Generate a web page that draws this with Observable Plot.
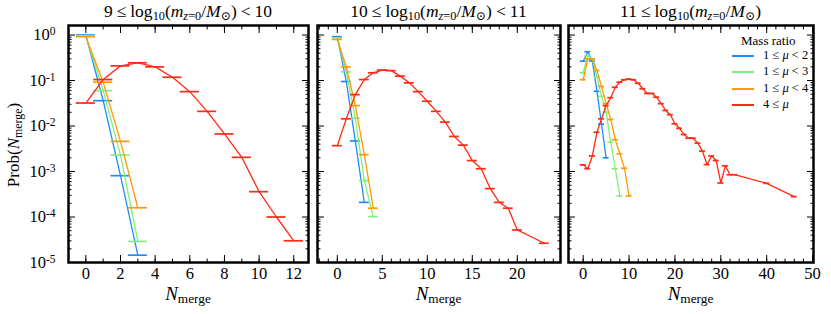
<!DOCTYPE html>
<html><head><meta charset="utf-8">
<script src="https://cdn.jsdelivr.net/npm/d3@7"></script>
<script src="https://cdn.jsdelivr.net/npm/@observablehq/plot@0.6"></script>
<style>
body{margin:0;background:#fff;}
#wrap{position:relative;width:831px;height:314px;overflow:hidden;font-family:"Liberation Serif","DejaVu Serif",serif;color:#000;}
.panel{position:absolute;top:0;}
.title{position:absolute;top:1px;font-size:17.5px;text-align:center;white-space:nowrap;transform:translateX(-50%);}
.rel{margin:0 4px;}
.xlab{position:absolute;top:284px;font-size:19px;line-height:1;white-space:nowrap;transform:translateX(-50%);}
.ylab{position:absolute;left:14px;top:145px;font-size:17px;white-space:nowrap;transform:translate(-50%,-50%) rotate(-90deg);}
sub{font-size:70%;vertical-align:-0.25em;line-height:0;}
.leg{position:absolute;font-size:12.5px;white-space:nowrap;}
.legline{position:absolute;width:22px;height:0;border-top:2.5px solid;}
</style></head>
<body><div id="wrap"></div>
<script>
// ---------- data ----------
const colors = {blue:"#1e8cff", green:"#80f07a", orange:"#ff9a00", red:"#ff2a14"};
const seriesNames = ["blue","green","orange","red"];
const legendLabels = ["1 ≤ <i>μ</i> &lt; 2","1 ≤ <i>μ</i> &lt; 3","1 ≤ <i>μ</i> &lt; 4","4 ≤ <i>μ</i>"];
const titles = [
  "9<span class='rel'>≤</span>log<sub>10</sub>(<i>m</i><sub><i>z</i>=0</sub>/<i>M</i><sub>⊙</sub>)<span class='rel'>&lt;</span>10",
  "10<span class='rel'>≤</span>log<sub>10</sub>(<i>m</i><sub><i>z</i>=0</sub>/<i>M</i><sub>⊙</sub>)<span class='rel'>&lt;</span>11",
  "11<span class='rel'>≤</span>log<sub>10</sub>(<i>m</i><sub><i>z</i>=0</sub>/<i>M</i><sub>⊙</sub>)"
];

// Panel 1: 9 <= log m < 10
const p1N_blue = [0,1,2,3];
const p1P_blue = [1.0, 0.036, 8.1e-4, 1.45e-5];
const p1N_green = [0,1,2,3];
const p1P_green = [0.96, 0.06, 2.3e-3, 2.9e-5];
const p1N_orange = [0,1,2,3];
const p1P_orange = [0.92, 0.092, 4.6e-3, 1.6e-4];
const p1N_red = [0,1,2,3,4,5,6,7,8,9,10,11,12];
const p1P_red = [0.032,0.105,0.21,0.245,0.2,0.118,0.057,0.021,6.7e-3,2.05e-3,3.6e-4,1.0e-4,3.0e-5];

// Panel 2: 10 <= log m < 11
const p2N_blue = [0,1,2,3];
const p2P_blue = [0.92, 0.095, 4.7e-3, 2.1e-4];
const p2N_green = [0,1,2,3,4];
const p2P_green = [0.86, 0.155, 0.0148, 6.3e-4, 1.02e-4];
const p2N_orange = [0,1,2,3,4];
const p2P_orange = [0.8, 0.2, 0.028, 2.35e-3, 1.56e-4];
const p2N_red = [0,1,2,3,4,5,6,7,8,9,10,11,12,13,14,15,16,17,18,19,20,23];
const p2P_red = [3.7e-3,0.0144,0.049,0.105,0.148,0.17,0.165,0.125,0.089,0.057,0.035,0.021,0.0122,5.9e-3,3.8e-3,1.74e-3,1.15e-3,4.2e-4,2.1e-4,1.56e-4,5.2e-5,2.65e-5];

// Panel 3: 11 <= log m
const p3N_blue = [0,1,2,3,4,5];
const p3P_blue = [0.266, 0.43, 0.27, 0.058, 0.011, 2.0e-3];
const p3N_green = [0,1,2,3,4,5,6,7,8];
const p3P_green = [0.148, 0.35, 0.3, 0.12, 0.045, 0.02, 4.4e-3, 1.15e-3, 2.9e-4];
const p3N_orange = [0,1,2,3,4,5,6,7,8,9,10];
const p3P_orange = [0.104, 0.3, 0.3, 0.166, 0.074, 0.031, 0.0139, 5.0e-3, 2.45e-3, 1.18e-3, 2.9e-4];
const p3N_red = [0,1,2,3,4,5,6,7,8,9,10,11,12,13,14,15,16,17,18,19,20,21,22,23,24,25,26,27,28,29,30,31,32,33,40,46];
const p3P_red = [1.4e-3,1.15e-3,2.2e-3,7.3e-3,0.0144,0.028,0.042,0.071,0.092,0.104,0.107,0.104,0.087,0.066,0.052,0.052,0.043,0.031,0.022,0.0177,0.0112,0.0089,6.5e-3,5.4e-3,5.4e-3,4.2e-3,2.8e-3,1.42e-3,2.2e-3,1.74e-3,5.6e-4,1.33e-3,8.5e-4,8.5e-4,5.5e-4,2.8e-4];

// tick labels
const yMajor = [1e-5,1e-4,1e-3,1e-2,1e-1,1];
const p1xTicks = [0,2,4,6,8,10,12];
const p2xTicks = [0,5,10,15,20];
const p3xTicks = [0,10,20,30,40,50];

// ---------- build ----------
const yMinor = [];
for (let e = -5; e <= 0; e++) for (let k = 2; k <= 9; k++) { const v = k * 10 ** e; if (v < 1.6) yMinor.push(v); }

const panelData = [
  {N:{blue:p1N_blue,green:p1N_green,orange:p1N_orange,red:p1N_red}, P:{blue:p1P_blue,green:p1P_green,orange:p1P_orange,red:p1P_red}},
  {N:{blue:p2N_blue,green:p2N_green,orange:p2N_orange,red:p2N_red}, P:{blue:p2P_blue,green:p2P_green,orange:p2P_orange,red:p2P_red}},
  {N:{blue:p3N_blue,green:p3N_green,orange:p3N_orange,red:p3N_red}, P:{blue:p3P_blue,green:p3P_green,orange:p3P_orange,red:p3P_red}}
];

const layout = [
  {left:0,   width:311, mL:68, mR:3,  xDomain:[-1,12.85],  major:p1xTicks, minor:d3.range(-1,13,1),   cap:0.55, showY:true},
  {left:311, width:252, mL:6,  mR:3,  xDomain:[-2.2,24.8], major:p2xTicks, minor:d3.range(-2,25,1),   cap:0.55, showY:false},
  {left:563, width:268, mL:5,  mR:18, xDomain:[-3.2,50.2], major:p3xTicks, minor:d3.range(-2,51,2),   cap:0.65, showY:false}
];

const wrap = document.getElementById("wrap");

layout.forEach((L, i) => {
  const marks = [];
  for (const s of seriesNames) {
    const data = panelData[i].N[s].map((n, j) => ({n, p: panelData[i].P[s][j]}));
    marks.push(Plot.line(data, {x:"n", y:"p", stroke: colors[s], strokeWidth: 1.3}));
    marks.push(Plot.ruleY(data, {y:"p", x1: d => d.n - L.cap, x2: d => d.n + L.cap, stroke: colors[s], strokeWidth: 1.7}));
  }
  marks.push(
    Plot.axisX(L.major, {anchor:"bottom", tickSize:-7, tickPadding:12, label:null, fontSize:16.5}),
    Plot.axisX(L.minor, {anchor:"bottom", tickSize:-3.5, fill:"none", label:null}),
    Plot.axisX(L.major, {anchor:"top", tickSize:-7, fill:"none", label:null}),
    Plot.axisX(L.minor, {anchor:"top", tickSize:-3.5, fill:"none", label:null}),
    Plot.axisY(yMajor, {anchor:"left", tickSize:-7, tickPadding:20, label:null, fontSize:16.5,
      fill: L.showY ? "currentColor" : "none", tickFormat: d => "10|" + Math.round(Math.log10(d))}),
    Plot.axisY(yMinor, {anchor:"left", tickSize:-3.5, fill:"none", label:null}),
    Plot.axisY(yMajor, {anchor:"right", tickSize:-7, fill:"none", label:null}),
    Plot.axisY(yMinor, {anchor:"right", tickSize:-3.5, fill:"none", label:null}),
    Plot.frame({stroke:"black", strokeWidth:2.5})
  );
  const svg = Plot.plot({
    width: L.width, height: 314,
    marginLeft: L.mL, marginRight: L.mR, marginTop: 25, marginBottom: 52,
    x: {domain: L.xDomain},
    y: {type: "log", domain: [1e-5, 1.62]},
    style: {fontFamily: '"Liberation Serif", "DejaVu Serif", serif', fontSize: "16px", background: "transparent", color: "black"},
    marks
  });
  svg.classList.add("panel");
  svg.style.left = L.left + "px";
  wrap.appendChild(svg);

  if (L.showY) {
    svg.querySelectorAll('g[aria-label="y-axis tick label"] text').forEach(t => {
      const parts = t.textContent.split("|");
      if (parts.length < 2) return;
      t.textContent = parts[0];
      const ts = document.createElementNS("http://www.w3.org/2000/svg", "tspan");
      ts.setAttribute("dy", "-0.42em");
      ts.setAttribute("font-size", "11.5px");
      ts.textContent = parts[1];
      t.appendChild(ts);
    });
  }

  const cx = L.left + L.mL + (L.width - L.mL - L.mR) / 2;
  const tdiv = document.createElement("div");
  tdiv.className = "title"; tdiv.style.left = cx + "px"; tdiv.innerHTML = titles[i];
  wrap.appendChild(tdiv);
  const xl = document.createElement("div");
  xl.className = "xlab"; xl.style.left = cx + "px"; xl.innerHTML = "<i>N</i><sub>merge</sub>";
  wrap.appendChild(xl);
});

const yl = document.createElement("div");
yl.className = "ylab"; yl.innerHTML = "Prob(<i>N</i><sub>merge</sub>)";
wrap.appendChild(yl);

// legend
const lt = document.createElement("div");
lt.className = "leg"; lt.style.left = "741px"; lt.style.top = "33px"; lt.style.fontSize = "13px";
lt.textContent = "Mass ratio";
wrap.appendChild(lt);
seriesNames.forEach((s, k) => {
  const y = 56 + k * 16.4;
  const ln = document.createElement("div");
  ln.className = "legline"; ln.style.left = "732px"; ln.style.top = (y - 1) + "px"; ln.style.borderColor = colors[s];
  wrap.appendChild(ln);
  const tx = document.createElement("div");
  tx.className = "leg"; tx.style.left = "763px"; tx.style.top = (y - 8) + "px"; tx.innerHTML = legendLabels[k];
  wrap.appendChild(tx);
});
</script>
</body></html>
